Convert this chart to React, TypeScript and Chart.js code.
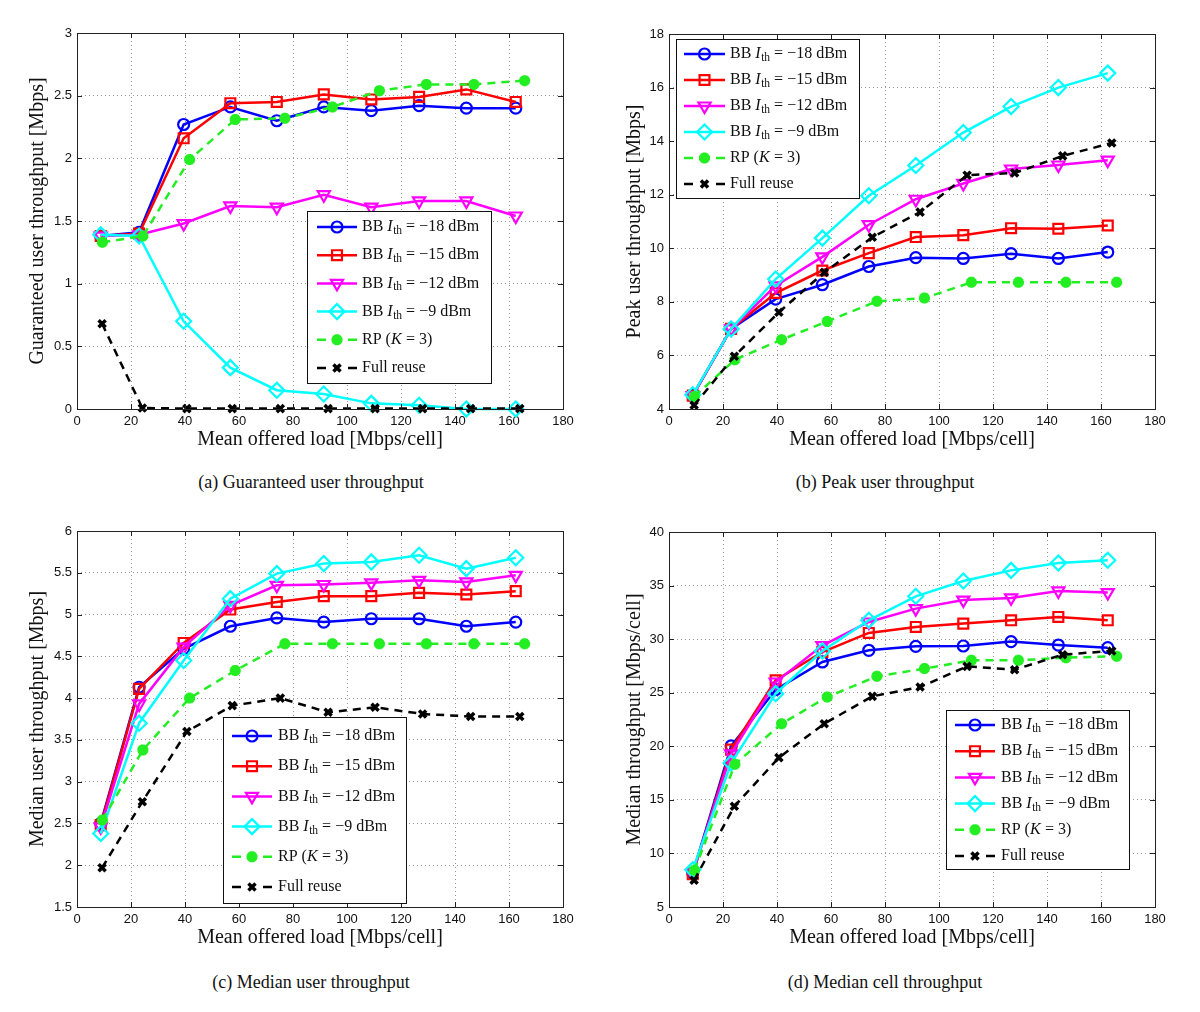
import React, { useEffect, useRef } from 'react';
import { Chart, registerables } from 'chart.js';
import { drawPoint } from 'chart.js/helpers';

Chart.register(...registerables);

// ---------- DATA ----------
const xTicksStep = 20;
const xBB = [8.8, 23, 39.5, 56.8, 74, 91.4, 109, 126.7, 144.2, 162.5];
const xRP = [9.4, 24.4, 41.7, 58.6, 77, 94.6, 112, 129.4, 147, 165.8];
const xFull = [9.3, 24.2, 40.7, 57.5, 75.3, 93, 110.4, 128, 145.8, 164];

const seriesNames = [
  'BB I_th = −18 dBm',
  'BB I_th = −15 dBm',
  'BB I_th = −12 dBm',
  'BB I_th = −9 dBm',
  'RP (K = 3)',
  'Full reuse',
];

// (a) Guaranteed user throughput [Mbps]
const guarBB18 = [1.38, 1.41, 2.27, 2.41, 2.30, 2.41, 2.38, 2.42, 2.40, 2.40];
const guarBB15 = [1.38, 1.40, 2.16, 2.44, 2.45, 2.51, 2.47, 2.49, 2.55, 2.45];
const guarBB12 = [1.38, 1.39, 1.48, 1.62, 1.61, 1.71, 1.61, 1.66, 1.66, 1.54];
const guarBB9 = [1.39, 1.38, 0.70, 0.33, 0.15, 0.12, 0.045, 0.03, 0.0, 0.0];
const guarRP = [1.33, 1.38, 1.99, 2.31, 2.32, 2.41, 2.54, 2.59, 2.59, 2.62];
const guarFull = [0.68, 0.008, 0.003, 0.003, 0.003, 0.003, 0.003, 0.003, 0.003, 0.003];

// (b) Peak user throughput [Mbps]
const peakBB18 = [4.5, 6.99, 8.1, 8.64, 9.32, 9.65, 9.62, 9.8, 9.62, 9.86];
const peakBB15 = [4.5, 6.99, 8.33, 9.17, 9.82, 10.42, 10.49, 10.75, 10.73, 10.85];
const peakBB12 = [4.5, 6.99, 8.6, 9.68, 10.88, 11.83, 12.42, 12.96, 13.11, 13.29];
const peakBB9 = [4.53, 6.99, 8.85, 10.38, 11.96, 13.09, 14.32, 15.29, 16.0, 16.54];
const peakRP = [4.47, 5.84, 6.59, 7.27, 8.02, 8.14, 8.73, 8.73, 8.73, 8.73];
const peakFull = [4.14, 5.97, 7.61, 9.1, 10.41, 11.35, 12.73, 12.81, 13.45, 13.93];

// (c) Median user throughput [Mbps]
const medBB18 = [2.5, 4.13, 4.59, 4.86, 4.96, 4.91, 4.95, 4.95, 4.86, 4.91];
const medBB15 = [2.48, 4.11, 4.66, 5.06, 5.15, 5.22, 5.22, 5.26, 5.24, 5.28];
const medBB12 = [2.46, 3.93, 4.61, 5.11, 5.35, 5.36, 5.38, 5.41, 5.39, 5.47];
const medBB9 = [2.38, 3.70, 4.45, 5.19, 5.49, 5.61, 5.63, 5.71, 5.55, 5.68];
const medRP = [2.54, 3.38, 4.00, 4.33, 4.65, 4.65, 4.65, 4.65, 4.65, 4.65];
const medFull = [1.97, 2.76, 3.60, 3.91, 4.00, 3.83, 3.89, 3.81, 3.78, 3.78];

// (d) Median cell throughput [Mbps/cell]
const cellBB18 = [8.17, 20.03, 25.29, 27.87, 28.96, 29.33, 29.36, 29.77, 29.45, 29.2];
const cellBB15 = [8.05, 19.69, 26.16, 28.8, 30.58, 31.14, 31.45, 31.76, 32.07, 31.76];
const cellBB12 = [8.2, 19.3, 26.0, 29.4, 31.6, 32.85, 33.65, 33.85, 34.5, 34.35];
const cellBB9 = [8.48, 18.44, 24.91, 28.9, 31.76, 34.0, 35.43, 36.42, 37.11, 37.36];
const cellRP = [8.42, 18.32, 22.11, 24.6, 26.53, 27.25, 28.02, 28.02, 28.27, 28.4];
const cellFull = [7.49, 14.4, 18.94, 22.11, 24.66, 25.53, 27.46, 27.15, 28.55, 28.9];

// ---------- STYLES ----------
type Seg = [string, 'n' | 'i' | 's'];
const legendSegs: Seg[][] = [
  [['BB ', 'n'], ['I', 'i'], ['th', 's'], [' = −18 dBm', 'n']],
  [['BB ', 'n'], ['I', 'i'], ['th', 's'], [' = −15 dBm', 'n']],
  [['BB ', 'n'], ['I', 'i'], ['th', 's'], [' = −12 dBm', 'n']],
  [['BB ', 'n'], ['I', 'i'], ['th', 's'], [' = −9 dBm', 'n']],
  [['RP (', 'n'], ['K', 'i'], [' = 3)', 'n']],
  [['Full reuse', 'n']],
];

const GREEN = '#22ee22';
const styles = [
  { color: '#0000ff', pointStyle: 'circle', radius: 5.5, rotation: 0, dash: [] as number[], fill: 'rgba(0,0,0,0)', pbw: 2.2 },
  { color: '#ff0000', pointStyle: 'rect', radius: 7, rotation: 0, dash: [] as number[], fill: 'rgba(0,0,0,0)', pbw: 2.2 },
  { color: '#ff00ff', pointStyle: 'triangle', radius: 7, rotation: 180, dash: [] as number[], fill: 'rgba(0,0,0,0)', pbw: 2.2 },
  { color: '#00ffff', pointStyle: 'rectRot', radius: 7.5, rotation: 0, dash: [] as number[], fill: 'rgba(0,0,0,0)', pbw: 2.2 },
  { color: GREEN, pointStyle: 'star', radius: 5.5, rotation: 0, dash: [8, 6], fill: GREEN, pbw: 3.8 },
  { color: '#000000', pointStyle: 'crossRot', radius: 5, rotation: 0, dash: [8, 6], fill: '#000000', pbw: 3.5 },
];

const xSets = [xBB, xBB, xBB, xBB, xRP, xFull];

interface PanelCfg {
  left: number; top: number;
  area: { l: number; t: number; r: number; b: number };
  yTitle: string; yTitleX: number;
  ymin: number; ymax: number; ystep: number;
  series: number[][];
  legend: { x: number; y: number; w: number; h: number; row0: number; step: number; l0: number; l1: number; tx: number };
  caption: string;
}

const CW = 600;
const CH = 460;
const XH = 50;

const panels: PanelCfg[] = [
  {
    left: 0, top: 0, area: { l: 77, t: 33, r: 563, b: 409 },
    yTitle: 'Guaranteed user throughput [Mbps]', yTitleX: 38,
    ymin: 0, ymax: 3, ystep: 0.5,
    series: [guarBB18, guarBB15, guarBB12, guarBB9, guarRP, guarFull],
    legend: { x: 307, y: 211, w: 184, h: 172, row0: 227, step: 28.2, l0: 317, l1: 357, tx: 362 },
    caption: '(a) Guaranteed user throughput',
  },
  {
    left: 600, top: 0, area: { l: 69, t: 34, r: 555, b: 409 },
    yTitle: 'Peak user throughput [Mbps]', yTitleX: 35,
    ymin: 4, ymax: 18, ystep: 2,
    series: [peakBB18, peakBB15, peakBB12, peakBB9, peakRP, peakFull],
    legend: { x: 76, y: 39, w: 183, h: 159, row0: 54, step: 26, l0: 84, l1: 125, tx: 130 },
    caption: '(b) Peak user throughput',
  },
  {
    left: 0, top: 500, area: { l: 77, t: 31, r: 563, b: 407 },
    yTitle: 'Median user throughput [Mbps]', yTitleX: 38,
    ymin: 1.5, ymax: 6, ystep: 0.5,
    series: [medBB18, medBB15, medBB12, medBB9, medRP, medFull],
    legend: { x: 223, y: 217, w: 183, h: 186, row0: 236, step: 30.2, l0: 232, l1: 272, tx: 278 },
    caption: '(c) Median user throughput',
  },
  {
    left: 600, top: 500, area: { l: 69, t: 32, r: 555, b: 407 },
    yTitle: 'Median throughput [Mbps/cell]', yTitleX: 35,
    ymin: 5, ymax: 40, ystep: 5,
    series: [cellBB18, cellBB15, cellBB12, cellBB9, cellRP, cellFull],
    legend: { x: 346, y: 210, w: 183, h: 159, row0: 225, step: 26.2, l0: 355, l1: 395, tx: 401 },
    caption: '(d) Median cell throughput',
  },
];

const SERIF = '"Liberation Serif", "Times New Roman", serif';
const SANS = '"Liberation Sans", Arial, sans-serif';

const fmtTick = (v: any) => String(+(+v).toFixed(3));

const framePlugin = {
  id: 'frameLegend',
  afterDraw(chart: any, _args: any, opts: any) {
    const { ctx, chartArea: a, scales } = chart;
    ctx.save();
    ctx.setLineDash([]);
    ctx.strokeStyle = '#222';
    ctx.lineWidth = 1;
    ctx.beginPath();
    const tl = 5;
    scales.x.ticks.forEach((t: any) => {
      const px = Math.round(scales.x.getPixelForValue(t.value)) + 0.5;
      ctx.moveTo(px, a.bottom); ctx.lineTo(px, a.bottom - tl);
      ctx.moveTo(px, a.top); ctx.lineTo(px, a.top + tl);
    });
    scales.y.ticks.forEach((t: any) => {
      const py = Math.round(scales.y.getPixelForValue(t.value)) + 0.5;
      ctx.moveTo(a.left, py); ctx.lineTo(a.left + tl, py);
      ctx.moveTo(a.right, py); ctx.lineTo(a.right - tl, py);
    });
    ctx.stroke();
    ctx.strokeRect(Math.round(a.left) + 0.5, Math.round(a.top) + 0.5, Math.round(a.right - a.left), Math.round(a.bottom - a.top));

    // legend
    const L = opts.legend;
    if (L) {
      ctx.fillStyle = '#ffffff';
      ctx.fillRect(L.x, L.y, L.w, L.h);
      ctx.strokeStyle = '#111';
      ctx.lineWidth = 1;
      ctx.strokeRect(L.x + 0.5, L.y + 0.5, L.w, L.h);
      chart.data.datasets.forEach((ds: any, i: number) => {
        const st = styles[i];
        const y = L.row0 + i * L.step;
        ctx.save();
        ctx.strokeStyle = st.color;
        ctx.lineWidth = 2.5;
        ctx.beginPath();
        if (st.dash.length) {
          ctx.moveTo(L.l0, y); ctx.lineTo(L.l0 + 9, y);
          ctx.moveTo(L.l1 - 9, y); ctx.lineTo(L.l1, y);
        } else {
          ctx.moveTo(L.l0, y); ctx.lineTo(L.l1, y);
        }
        ctx.stroke();
        ctx.fillStyle = st.fill;
        ctx.lineWidth = st.pbw;
        drawPoint(ctx, { pointStyle: st.pointStyle as any, radius: st.radius, rotation: st.rotation, borderWidth: st.pbw }, (L.l0 + L.l1) / 2, y);
        ctx.restore();

        // text
        let x = L.tx;
        ctx.fillStyle = '#111';
        ctx.textBaseline = 'middle';
        ctx.textAlign = 'left';
        legendSegs[i].forEach(([t, kind]) => {
          if (kind === 'n') ctx.font = `16px ${SERIF}`;
          else if (kind === 'i') ctx.font = `italic 16px ${SERIF}`;
          else ctx.font = `11.5px ${SERIF}`;
          const dy = kind === 's' ? 4 : 0;
          ctx.fillText(t, x, y + dy);
          x += ctx.measureText(t).width + (kind === 'i' ? 0.5 : 0);
        });
      });
    }
    ctx.restore();
  },
};

function Panel({ cfg }: { cfg: PanelCfg }) {
  const ref = useRef<HTMLCanvasElement>(null);
  useEffect(() => {
    const { area } = cfg;
    const datasets = cfg.series.map((vals, i) => {
      const st = styles[i];
      return {
        label: seriesNames[i],
        data: vals.map((v, k) => ({ x: xSets[i][k], y: v })),
        borderColor: st.color,
        backgroundColor: st.fill,
        borderWidth: 2.5,
        borderDash: st.dash,
        pointStyle: st.pointStyle,
        pointRadius: st.radius,
        pointHoverRadius: st.radius,
        pointRotation: st.rotation,
        pointBorderWidth: st.pbw,
        pointBorderColor: st.color,
        pointBackgroundColor: st.fill,
        tension: 0,
        fill: false,
        clip: false as any,
        order: 10 - i,
      };
    });
    const chart = new Chart(ref.current as HTMLCanvasElement, {
      type: 'line',
      data: { datasets: datasets as any },
      plugins: [framePlugin as any],
      options: {
        animation: false,
        responsive: false,
        events: [],
        layout: {
          padding: { left: 0, top: area.t, right: CW - area.r, bottom: CH - area.b - XH },
        },
        plugins: {
          legend: { display: false },
          tooltip: { enabled: false },
          frameLegend: { legend: cfg.legend },
        } as any,
        scales: {
          x: {
            type: 'linear',
            min: 0, max: 180,
            afterFit: (s: any) => { s.height = XH; },
            ticks: { stepSize: xTicksStep, padding: 5, color: '#111', font: { family: SANS, size: 13 }, maxRotation: 0, callback: fmtTick },
            grid: { color: '#9a9a9a', lineWidth: 1, drawTicks: false },
            border: { display: false, dash: [1, 3] },
            title: {
              display: true, text: 'Mean offered load [Mbps/cell]', color: '#111',
              font: { family: SERIF, size: 20 }, padding: { top: 0, bottom: 7 },
            },
          },
          y: {
            type: 'linear',
            min: cfg.ymin, max: cfg.ymax,
            afterFit: (s: any) => { s.width = area.l; },
            ticks: { stepSize: cfg.ystep, padding: 5, color: '#111', font: { family: SANS, size: 13 }, callback: fmtTick },
            grid: { color: '#9a9a9a', lineWidth: 1, drawTicks: false },
            border: { display: false, dash: [1, 3] },
            title: {
              display: true, text: cfg.yTitle, color: '#111',
              font: { family: SERIF, size: 20 }, padding: { top: cfg.yTitleX - 12, bottom: 0 },
            },
          },
        },
      } as any,
    });
    return () => chart.destroy();
  }, [cfg]);
  return (
    <canvas
      ref={ref}
      width={CW}
      height={CH}
      style={{ position: 'absolute', left: cfg.left, top: cfg.top, width: CW, height: CH }}
    />
  );
}

export default function App() {
  return (
    <div style={{ position: 'absolute', left: 0, top: 0, width: 1200, height: 1012, background: '#fff', overflow: 'hidden' }}>
      {panels.map((p, i) => (
        <Panel key={i} cfg={p} />
      ))}
      {panels.map((p, i) => (
        <div
          key={'c' + i}
          style={{
            position: 'absolute',
            left: p.left === 0 ? 0 : 600,
            width: p.left === 0 ? 622 : 570,
            top: p.top + 471,
            textAlign: 'center',
            fontFamily: SERIF,
            fontSize: 18,
            lineHeight: '22px',
            color: '#111',
            whiteSpace: 'nowrap',
          }}
        >
          {p.caption}
        </div>
      ))}
    </div>
  );
}
